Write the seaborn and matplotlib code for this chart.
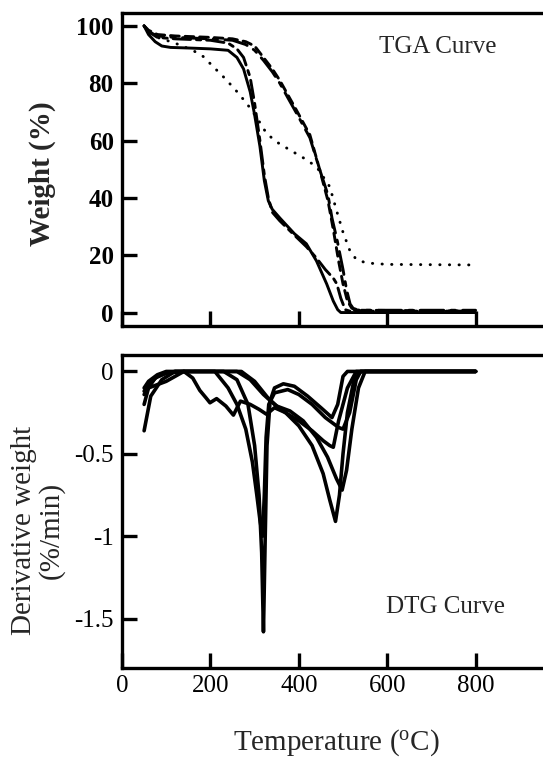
import matplotlib.pyplot as plt
import seaborn as sns

# ---- TGA curves: temperature (C) / weight (%)
tga_a_t = [50, 60, 75, 90, 110, 150, 200, 240, 260, 275, 290, 300, 312, 322, 331, 340, 357, 390, 417, 440, 463, 478, 488, 495, 520, 800]
tga_a_w = [100, 97, 94.5, 93, 92.5, 92.3, 92, 91.5, 89, 85, 77, 69, 58, 46, 39, 36, 33, 27.5, 24, 18, 10, 4, 1, 0, 0, 0]

tga_b_t = [50, 60, 80, 120, 200, 240, 260, 275, 290, 300, 312, 322, 331, 340, 357, 390, 417, 440, 460, 478, 486, 495, 505, 515, 800]
tga_b_w = [100, 98, 96, 95.5, 95, 94, 92, 89, 82, 73, 60, 48, 40, 35, 32, 27, 23, 19, 15, 12, 10, 5, 1, 0.5, 0.5]

tga_c_t = [50, 60, 80, 120, 160, 184, 205, 229, 255, 282, 305, 327, 350, 380, 410, 440, 470, 485, 500, 515, 530, 553, 600, 800]
tga_c_w = [100, 98, 96, 94, 91.5, 89.3, 86, 82.3, 78, 73, 68, 62.5, 59.5, 56.7, 54, 50.9, 43.9, 35.8, 28, 21.8, 18.5, 17.3, 16.8, 16.6]

tga_d_t = [50, 60, 80, 120, 200, 250, 280, 300, 320, 340, 357, 375, 395, 425, 447, 466, 478, 490, 500, 510, 520, 540, 800]
tga_d_w = [100, 98.5, 97, 96.5, 96, 95.5, 94.5, 93, 89, 85, 81, 76, 70.5, 62, 50, 39, 29, 18, 10, 4, 1.5, 0.8, 0.5]

tga_e_t = [50, 60, 80, 120, 200, 250, 280, 300, 320, 340, 357, 375, 395, 425, 447, 466, 475, 487, 500, 508, 516, 525, 540, 800]
tga_e_w = [100, 98, 96.5, 96, 95.5, 95, 93.5, 91.5, 88, 84, 80, 75, 69.5, 61, 50, 41, 33, 25, 15, 8, 3, 1, 0.8, 0.8]

# ---- DTG curves: temperature (C) / derivative weight (%/min)
dtg_1_t = [50, 60, 75, 100, 120, 230, 260, 285, 300, 310, 316, 320, 324, 328, 335, 345, 365, 390, 420, 450, 475, 488, 500, 510, 600, 800]
dtg_1_d = [-0.2, -0.1, -0.04, -0.01, 0, 0, -0.05, -0.2, -0.45, -0.75, -1.1, -1.58, -1.0, -0.45, -0.18, -0.1, -0.075, -0.09, -0.15, -0.22, -0.28, -0.2, -0.03, 0, 0, 0]

dtg_2_t = [50, 65, 90, 120, 210, 240, 260, 280, 295, 305, 312, 318, 322, 326, 332, 345, 375, 400, 430, 460, 490, 500, 515, 530, 540, 600, 800]
dtg_2_d = [-0.36, -0.15, -0.05, 0, 0, -0.1, -0.2, -0.35, -0.55, -0.75, -0.9, -1.0, -0.75, -0.4, -0.2, -0.13, -0.11, -0.14, -0.2, -0.28, -0.34, -0.35, -0.25, -0.05, 0, 0, 0]

dtg_3_t = [50, 60, 80, 100, 120, 140, 160, 176, 190, 199, 214, 235, 252, 268, 290, 310, 327, 345, 370, 400, 430, 455, 470, 478, 490, 510, 530, 600, 800]
dtg_3_d = [-0.14, -0.1, -0.08, -0.06, -0.03, 0, -0.04, -0.115, -0.16, -0.19, -0.165, -0.21, -0.265, -0.18, -0.2, -0.23, -0.26, -0.22, -0.25, -0.3, -0.36, -0.42, -0.45, -0.46, -0.3, -0.1, 0, 0, 0]

dtg_4_t = [50, 60, 80, 100, 130, 260, 290, 320, 345, 370, 400, 430, 455, 470, 483, 492, 500, 510, 525, 540, 600, 800]
dtg_4_d = [-0.1, -0.06, -0.02, 0, 0, 0, -0.05, -0.14, -0.2, -0.25, -0.33, -0.45, -0.62, -0.78, -0.91, -0.75, -0.5, -0.25, -0.05, 0, 0, 0]

dtg_5_t = [50, 60, 80, 100, 140, 270, 300, 330, 350, 380, 410, 440, 465, 485, 498, 508, 520, 535, 550, 600, 800]
dtg_5_d = [-0.12, -0.08, -0.03, -0.01, 0, 0, -0.06, -0.16, -0.21, -0.24, -0.3, -0.4, -0.52, -0.65, -0.72, -0.6, -0.35, -0.1, 0, 0, 0]

x_ticks = [0, 200, 400, 600, 800]
tga_ticks = [0, 20, 40, 60, 80, 100]
dtg_ticks = [0, -0.5, -1, -1.5]
dtg_labels = ["0", "-0.5", "-1", "-1.5"]

sns.set_theme(style="ticks")
plt.rcParams["font.family"] = ["Liberation Serif", "DejaVu Serif"]
plt.rcParams["mathtext.fontset"] = "custom"
plt.rcParams["mathtext.rm"] = "Liberation Serif"

fig = plt.figure(figsize=(5.43, 7.58), dpi=100)
ax1 = fig.add_axes([0.2247, 0.5699, 0.814, 0.4129])
ax2 = fig.add_axes([0.2247, 0.1187, 0.814, 0.413])

tga = [
    (tga_a_t, tga_a_w, "-"),
    (tga_b_t, tga_b_w, (0, (6, 2, 1.5, 2))),
    (tga_c_t, tga_c_w, (0, (0.1, 3.2))),
    (tga_d_t, tga_d_w, (0, (3, 2))),
    (tga_e_t, tga_e_w, (0, (8, 2.5, 1.5, 2.5))),
]
for t, w, ls in tga:
    sns.lineplot(x=t, y=w, ax=ax1, color="black", lw=2.1, linestyle=ls,
                 sort=False, estimator=None, dash_capstyle="round")

for t, d in [(dtg_1_t, dtg_1_d), (dtg_2_t, dtg_2_d), (dtg_3_t, dtg_3_d),
             (dtg_4_t, dtg_4_d), (dtg_5_t, dtg_5_d)]:
    sns.lineplot(x=t, y=d, ax=ax2, color="black", lw=2.6, sort=False, estimator=None)

for ax in (ax1, ax2):
    ax.set_xlim(0, 1000)
    ax.set_xticks(x_ticks)
    ax.tick_params(direction="in", length=11, width=2.4, labelsize=18, colors="black")
    ax.tick_params(axis="y", pad=6)
    ax.tick_params(axis="x", pad=5)
    for s in ax.spines.values():
        s.set_linewidth(2.4)
        s.set_color("black")

ax1.set_ylim(-4.7, 104.5)
ax1.set_yticks(tga_ticks)
ax1.set_xticklabels([])
for lab in ax1.get_yticklabels():
    lab.set_fontweight("bold")
ax1.set_ylabel("Weight (%)", fontsize=21, fontweight="bold", va="center")
ax1.yaxis.set_label_coords(-0.181, 0.486)
ax1.text(0.715, 0.89, "TGA Curve", transform=ax1.transAxes, fontsize=18,
         ha="center", va="center")

ax2.set_ylim(-1.8, 0.1)
ax2.set_yticks(dtg_ticks, dtg_labels)
ax2.set_ylabel("Derivative weight\n(%/min)", fontsize=21, va="center",
               linespacing=1.05)
ax2.yaxis.set_label_coords(-0.19, 0.438)
ax2.set_xlabel("Temperature ($\\mathregular{^{o}}$C)", fontsize=21, va="center")
ax2.xaxis.set_label_coords(0.485, -0.24)
ax2.text(0.731, 0.195, "DTG Curve", transform=ax2.transAxes, fontsize=18,
         ha="center", va="center")

fig.savefig("out.png", dpi=100)
